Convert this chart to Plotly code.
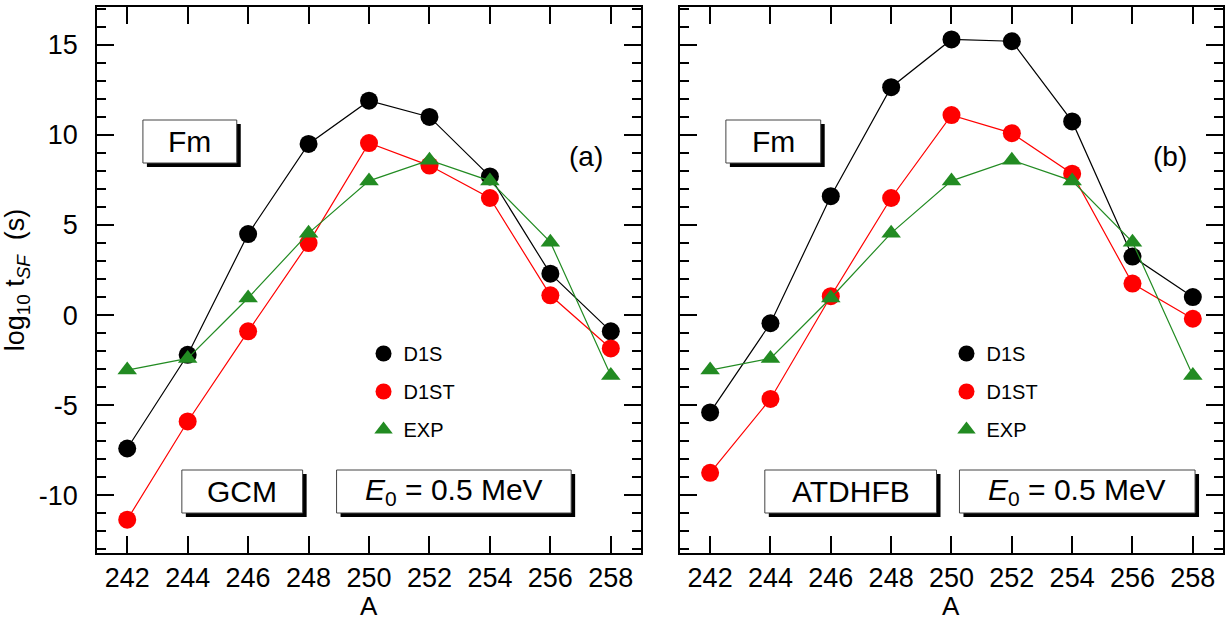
import plotly.graph_objects as go

A = [242, 244, 246, 248, 250, 252, 254, 256, 258]
gcm_d1s = [-7.4, -2.2, 4.5, 9.5, 11.9, 11.0, 7.7, 2.3, -0.9]
gcm_d1st = [-11.35, -5.9, -0.9, 4.0, 9.55, 8.3, 6.5, 1.1, -1.85]
exp_vals = [-3.05, -2.4, 0.95, 4.55, 7.45, 8.6, 7.45, 4.05, -3.35]
atd_d1s = [-5.4, -0.45, 6.6, 12.65, 15.3, 15.2, 10.75, 3.25, 1.0]
atd_d1st = [-8.75, -4.65, 1.05, 6.5, 11.1, 10.1, 7.85, 1.75, -0.2]

xticks = [242, 244, 246, 248, 250, 252, 254, 256, 258]
yticks = [-10, -5, 0, 5, 10, 15]
ytick_text = ["-10", "-5", "0", "5", "10", "15"]

W, H = 1228, 621
ML, MR, MT, MB = 97, 3, 7, 68
PW = W - ML - MR
PH = H - MT - MB

def px(x):
    return (x - ML) / PW

def py(y):
    return (H - MB - y) / PH

FONT = "Liberation Sans, Arial, Helvetica, sans-serif"
GREEN = "#228B22"

fig = go.Figure()

series_style = [
    ("D1S", "black", "circle", 18, 16),
    ("D1ST", "red", "circle", 18, 16),
    ("EXP", GREEN, "triangle-up", 17, 18),
]

panels = [
    ("x", "y", gcm_d1s, gcm_d1st, "legend", "a"),
    ("x2", "y2", atd_d1s, atd_d1st, "legend2", "b"),
]
for xa, ya, d1s, d1st, leg, tag in panels:
    for (name, col, sym, ms, lms), vals in zip(series_style, [d1s, d1st, exp_vals]):
        fig.add_trace(go.Scatter(x=A, y=vals, xaxis=xa, yaxis=ya, name=name, mode="lines+markers",
                                 line=dict(color=col, width=1.2),
                                 marker=dict(symbol=sym, size=ms, color=col),
                                 showlegend=False))
    for name, col, sym, ms, lms in series_style:
        # legend-only entries (markers without lines, as in the reference legend)
        fig.add_trace(go.Scatter(x=[None], y=[None], xaxis=xa, yaxis=ya, name=name, mode="markers",
                                 marker=dict(symbol=sym, size=lms, color=col),
                                 legend=leg, legendgroup=tag + name, showlegend=True))

xdom1 = [0, (642 - ML) / PW]
xdom2 = [(681 - ML) / PW, 1]

axis_common = dict(showline=True, linecolor="black", linewidth=1.5, mirror="allticks",
                   ticks="inside", ticklen=17, tickwidth=1.5, tickcolor="black",
                   showgrid=False, zeroline=False, tickfont=dict(size=27, color="black", family=FONT))

fig.update_layout(
    width=W, height=H,
    margin=dict(l=ML, r=MR, t=MT, b=MB),
    paper_bgcolor="white", plot_bgcolor="white",
    font=dict(family=FONT, color="black"),
    xaxis=dict(domain=xdom1, range=[241, 259], tickvals=xticks, anchor="y", ticklabelstandoff=0, **axis_common),
    xaxis2=dict(domain=xdom2, range=[241, 259], tickvals=xticks, anchor="y2", ticklabelstandoff=0, **axis_common),
    yaxis=dict(domain=[0, 1], range=[-13.2, 17.1], tickvals=yticks, ticktext=ytick_text, anchor="x",
               minor=dict(ticks="inside", ticklen=9, dtick=1, tick0=0, tickwidth=1.5, tickcolor="black", showgrid=False),
               title=dict(text="log<sub>10</sub> t<sub><i>SF</i></sub>  (s)", font=dict(size=27), standoff=7),
               ticklabelstandoff=12, **axis_common),
    yaxis2=dict(domain=[0, 1], range=[-13.2, 17.1], tickvals=yticks, anchor="x2", showticklabels=False,
                minor=dict(ticks="inside", ticklen=9, dtick=1, tick0=0, tickwidth=1.5, tickcolor="black", showgrid=False),
                **axis_common),
    legend=dict(x=px(364), y=py(334), xanchor="left", yanchor="top", bgcolor="rgba(0,0,0,0)",
                font=dict(size=20), tracegroupgap=9, itemsizing="trace"),
    legend2=dict(x=px(948), y=py(334), xanchor="left", yanchor="top", bgcolor="rgba(0,0,0,0)",
                 font=dict(size=20), tracegroupgap=9, itemsizing="trace"),
    showlegend=True,
)

boxes = [
    (143, 237, 120, 163, "Fm"),
    (182, 303, 470, 513, "GCM"),
    (337, 572, 470, 513, "<i>E</i><sub>0</sub> = 0.5 MeV"),
    (727, 822, 120, 163, "Fm"),
    (766, 938, 470, 513, "ATDHFB"),
    (961, 1197, 470, 513, "<i>E</i><sub>0</sub> = 0.5 MeV"),
]
shapes = []
annotations = []
for x0, x1, y0, y1, txt in boxes:
    shapes.append(dict(type="rect", xref="paper", yref="paper", x0=px(x0 + 4), x1=px(x1 + 4),
                       y0=py(y1 + 4), y1=py(y0 + 4), fillcolor="black", line=dict(width=0), layer="above"))
    shapes.append(dict(type="rect", xref="paper", yref="paper", x0=px(x0), x1=px(x1),
                       y0=py(y1), y1=py(y0), fillcolor="white", line=dict(color="#444", width=1), layer="above"))
    annotations.append(dict(x=px((x0 + x1) / 2), y=py((y0 + y1) / 2), xref="paper", yref="paper",
                            text=txt, showarrow=False, font=dict(size=30, color="black"),
                            xanchor="center", yanchor="middle"))

annotations.append(dict(x=px(587), y=py(156), xref="paper", yref="paper", text="(a)", showarrow=False,
                        font=dict(size=28), xanchor="center", yanchor="middle"))
annotations.append(dict(x=px(1172), y=py(156), xref="paper", yref="paper", text="(b)", showarrow=False,
                        font=dict(size=28), xanchor="center", yanchor="middle"))

# x-axis titles "A" under each panel
for xd in (xdom1, xdom2):
    annotations.append(dict(x=(xd[0] + xd[1]) / 2, y=py(621), xref="paper", yref="paper", text="A",
                            showarrow=False, font=dict(size=26), xanchor="center", yanchor="bottom",
                            yshift=-2))

fig.update_layout(shapes=shapes, annotations=annotations)
fig.write_html("out.html")
